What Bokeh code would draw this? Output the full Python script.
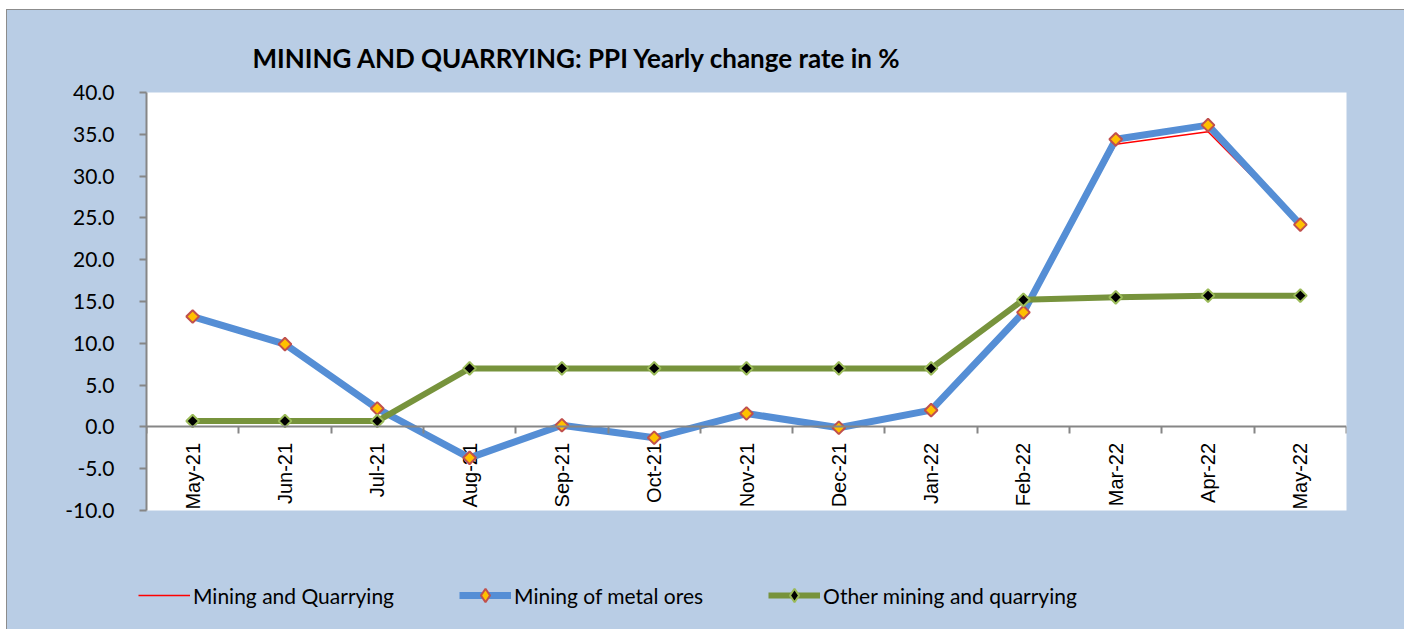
import math
from bokeh.plotting import figure
from bokeh.layouts import column
from bokeh.core.properties import value
from bokeh.models import (Range1d, LinearAxis, FixedTicker, NumeralTickFormatter,
                          Legend, LegendItem, ColumnDataSource)
from bokeh.embed import file_html
from bokeh.resources import INLINE

# ---- data ----
months = ["May-21", "Jun-21", "Jul-21", "Aug-21", "Sep-21", "Oct-21", "Nov-21",
          "Dec-21", "Jan-22", "Feb-22", "Mar-22", "Apr-22", "May-22"]
mining_quarrying = [13.0, 9.8, 2.2, -3.4, 0.2, -1.1, 1.6, -0.1, 2.0, 13.8, 33.8, 35.3, 24.2]
metal_ores = [13.2, 9.9, 2.2, -3.7, 0.2, -1.3, 1.6, -0.1, 2.0, 13.7, 34.4, 36.1, 24.2]
other_mining = [0.7, 0.7, 0.7, 7.0, 7.0, 7.0, 7.0, 7.0, 7.0, 15.2, 15.5, 15.7, 15.7]
y_ticks = [-10, -5, 0, 5, 10, 15, 20, 25, 30, 35, 40]
title_text = "MINING AND QUARRYING:  PPI  Yearly change rate  in %"
series_names = ["Mining and Quarrying", "Mining of metal ores", "Other mining and quarrying"]

n = len(months)
xpos = [i + 0.5 for i in range(n)]  # category centres on a 0..n scale
src = ColumnDataSource(dict(x=xpos, month=months, mq=mining_quarrying,
                            metal=metal_ores, other=other_mining))

BG = "#B9CDE5"
AXIS_GRAY = "#868686"
W = 1397

p = figure(width=W, height=520,
           x_range=Range1d(0, n), y_range=Range1d(y_ticks[0], y_ticks[-1]),
           output_backend="svg", toolbar_location=None,
           x_axis_type=None, y_axis_type=None,
           min_border_left=139, min_border_right=58, min_border_top=82, min_border_bottom=20,
           background_fill_color="white", border_fill_color=BG, outline_line_color=None)
p.frame_align = False

# title
p.title.text = title_text
p.title.text_font = "Lato"
p.title.text_font_style = "bold"
p.title.text_font_size = "26px"
p.title.text_color = "black"
p.title.align = "left"
p.title.offset = 106
p.title.standoff = 38

# grid
p.ygrid.ticker = FixedTicker(ticks=y_ticks)
p.ygrid.grid_line_color = "#DCE6F2"
p.ygrid.grid_line_width = 2
p.xgrid.grid_line_color = None

# y axis
yax = LinearAxis(ticker=FixedTicker(ticks=y_ticks), formatter=NumeralTickFormatter(format="0.0"))
yax.axis_line_color = AXIS_GRAY
yax.axis_line_width = 2
yax.major_tick_line_color = AXIS_GRAY
yax.major_tick_line_width = 2
yax.major_tick_in = 0
yax.major_tick_out = 7
yax.minor_tick_line_color = None
yax.major_label_text_font = "Lato"
yax.major_label_text_font_size = "21px"
yax.major_label_text_color = "black"
yax.major_label_standoff = 25
p.add_layout(yax, "left")

# x axis: line at zero with ticks between categories (pointing down)
xtick_axis = LinearAxis(ticker=FixedTicker(ticks=list(range(n + 1))), fixed_location=0)
xtick_axis.major_label_overrides = {i: "" for i in range(n + 1)}
xtick_axis.axis_line_color = AXIS_GRAY
xtick_axis.axis_line_width = 2
xtick_axis.major_tick_line_color = AXIS_GRAY
xtick_axis.major_tick_line_width = 2
xtick_axis.major_tick_in = 7
xtick_axis.major_tick_out = 0
xtick_axis.minor_tick_line_color = None
xtick_axis.major_label_text_font_size = "1px"
xtick_axis.major_label_standoff = 0
p.add_layout(xtick_axis, "above")

# category labels, written just under the zero line
p.text(x="x", y=0, text="month", source=src, angle=math.pi / 2,
       text_align="right", text_baseline="middle", y_offset=16,
       text_font=value("Liberation Sans"), text_font_size="20px", text_color="black")

# series
line_styles = [
    dict(line_color="#FF0000", line_width=1.5),
    dict(line_color="#558ED5", line_width=7),
    dict(line_color="#77933C", line_width=6),
]
marker_colors = [
    None,
    dict(fill_color="#FFC000", line_color="#C0504D", line_width=2),
    dict(fill_color="black", line_color="#9BBB59", line_width=2),
]
cols = ["mq", "metal", "other"]
for c, ls, mc in zip(cols, line_styles, marker_colors):
    p.line("x", c, source=src, **ls)
    if mc:
        p.scatter("x", c, source=src, marker="square", angle=math.pi / 4, size=9, **mc)

# legend strip (separate figure with the same background; series renderers hidden)
lf = figure(width=W, height=99, x_range=Range1d(0, n), y_range=Range1d(y_ticks[0], y_ticks[-1]),
            output_backend="svg", toolbar_location=None,
            x_axis_type=None, y_axis_type=None,
            min_border=0, min_border_left=0, min_border_right=0, min_border_top=0, min_border_bottom=0,
            background_fill_color=BG, border_fill_color=BG, outline_line_color=None)
lf.frame_align = False
lf.grid.visible = False
items = []
for name, c, ls, mc in zip(series_names, cols, line_styles, marker_colors):
    rs = [lf.line("x", c, source=src, visible=False, **ls)]
    if mc:
        rs.append(lf.scatter("x", c, source=src, visible=False, marker="diamond", size=13, **mc))
    items.append(LegendItem(label=name, renderers=rs))

legend = Legend(items=items, orientation="horizontal", location=(131, 17))
legend.background_fill_alpha = 0
legend.border_line_alpha = 0
legend.inactive_fill_alpha = 0
legend.padding = 0
legend.margin = 0
legend.spacing = 65
legend.glyph_width = 52
legend.glyph_height = 34
legend.label_height = 34
legend.label_standoff = 3
legend.label_text_font = "Lato"
legend.label_text_font_size = "21px"
legend.label_text_color = "black"
lf.add_layout(legend, "center")

layout = column(p, lf, spacing=0)
layout.styles = {"margin-left": "6px", "margin-top": "9px", "background-color": BG,
                 "border-left": "1px solid #8C8C8C", "border-top": "1px solid #8C8C8C"}

open("out.html", "w").write(file_html(layout, INLINE))
